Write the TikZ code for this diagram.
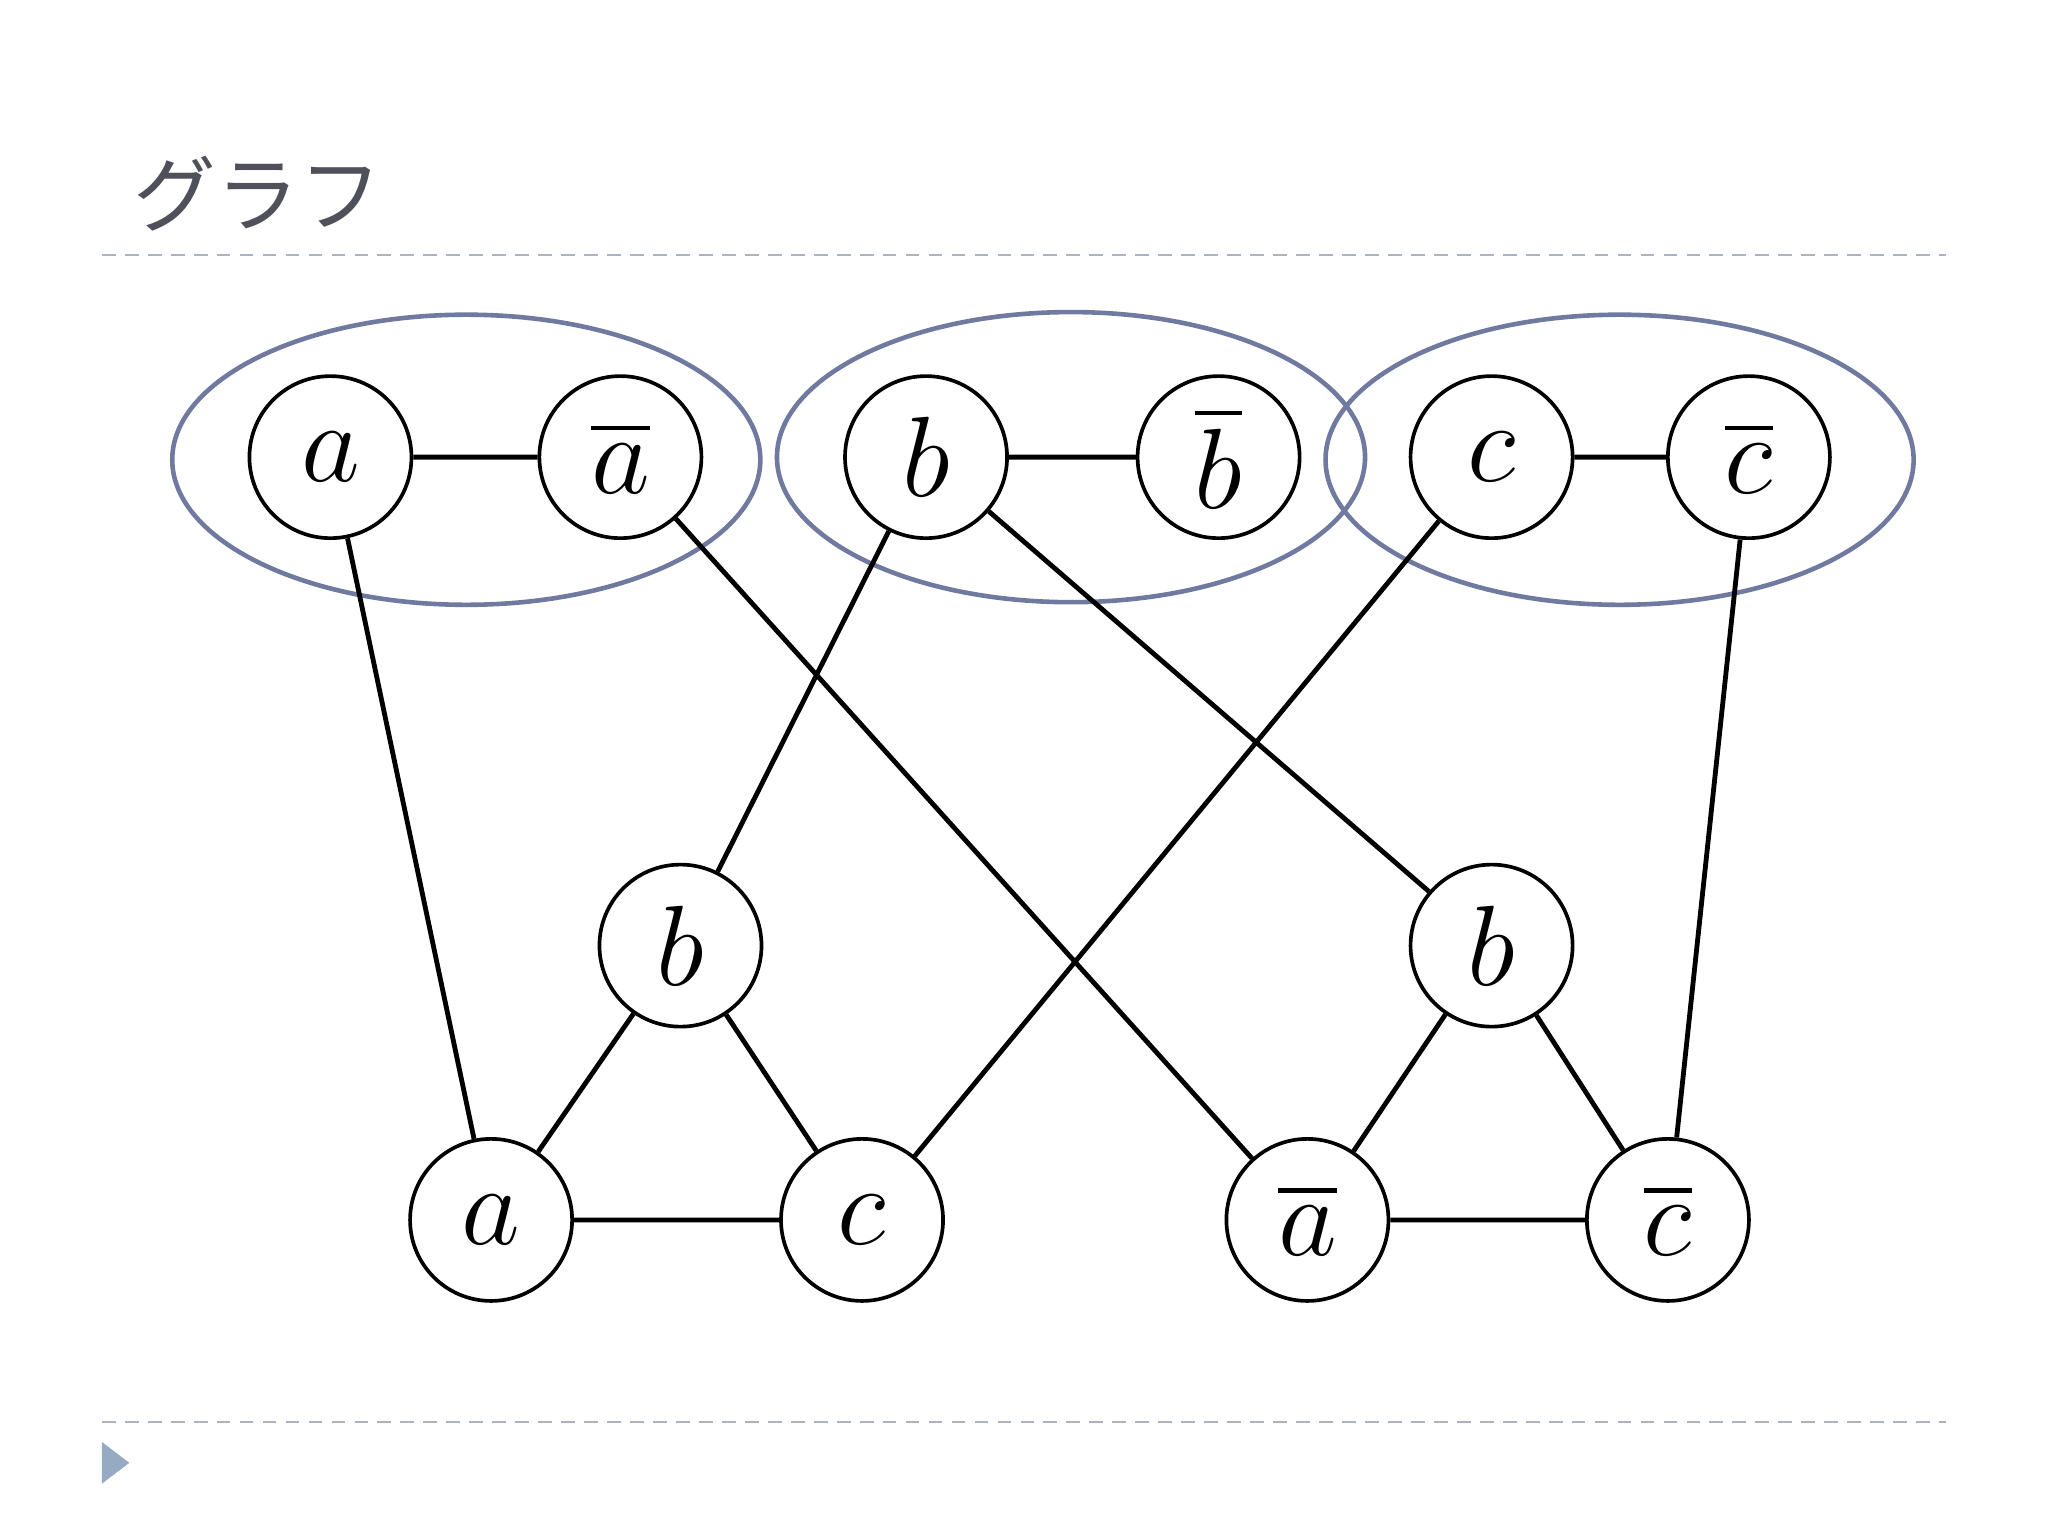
\documentclass[tikz,border=0pt]{standalone}
\usepackage{fontspec}
\newfontfamily\cjk{Noto Sans CJK JP}
\usetikzlibrary{shapes.geometric}
\newcommand{\nbar}[1]{\ensuremath{\mathrlap{\hbox to 0.5em{\hss\rule[0.62em]{0.42em}{1.6pt}\hss}}#1}}
\usepackage{mathtools}
\begin{document}
\begin{tikzpicture}[x=0.01cm,y=-0.01cm,
  v/.style={circle,draw,line width=0.8pt,minimum size=1.24cm,inner sep=0pt,font=\fontsize{30}{30}\selectfont},
  grp/.style={ellipse,draw=grpc,line width=1pt,minimum width=4.5cm,minimum height=2.22cm,inner sep=0pt},
  e/.style={line width=1.05pt},
  sep/.style={draw=sepc,dash pattern=on 3pt off 2pt,line width=0.4pt}]
\definecolor{grpc}{RGB}{112,122,160}
\definecolor{sepc}{RGB}{170,180,195}
\definecolor{titc}{RGB}{80,80,90}
\definecolor{tric}{RGB}{150,170,195}
\useasboundingbox (0,0) rectangle (1568,1176);
\node[anchor=west,text=titc,font=\cjk\fontsize{18}{18}\selectfont] (title) at (90,148) {グラフ};
\coordinate (s1a) at (78,195); \coordinate (s1b) at (1490,195);
\coordinate (s2a) at (78,1089); \coordinate (s2b) at (1490,1089);
\draw[sep] (s1a) -- (s1b);
\draw[sep] (s2a) -- (s2b);
\fill[tric] (78,1104) -- (99,1120) -- (78,1136) -- cycle;
\node[grp] (g1) at (357,352) {};
\node[grp] (g2) at (820,350) {};
\node[grp] (g3) at (1240,352) {};
\node[v] (a) at (253,350) {$a$};
\node[v] (na) at (475,350) {$\overline{a}$};
\node[v] (b) at (709,350) {$b$};
\node[v] (nb) at (933,350) {$\overline{b}$};
\node[v] (c) at (1142,350) {$c$};
\node[v] (nc) at (1339,350) {$\overline{c}$};
\node[v] (b1) at (521,724) {$b$};
\node[v] (b2) at (1142,724) {$b$};
\node[v] (a1) at (376,934) {$a$};
\node[v] (c1) at (660,934) {$c$};
\node[v] (na2) at (1001,934) {$\overline{a}$};
\node[v] (nc2) at (1277,934) {$\overline{c}$};
\draw[e] (a)--(na) (b)--(nb) (c)--(nc) (a)--(a1) (na)--(na2) (b)--(b1) (b)--(b2)
  (c)--(c1) (nc)--(nc2) (b1)--(a1) (b1)--(c1) (a1)--(c1) (b2)--(na2) (b2)--(nc2) (na2)--(nc2);
\end{tikzpicture}
\end{document}
